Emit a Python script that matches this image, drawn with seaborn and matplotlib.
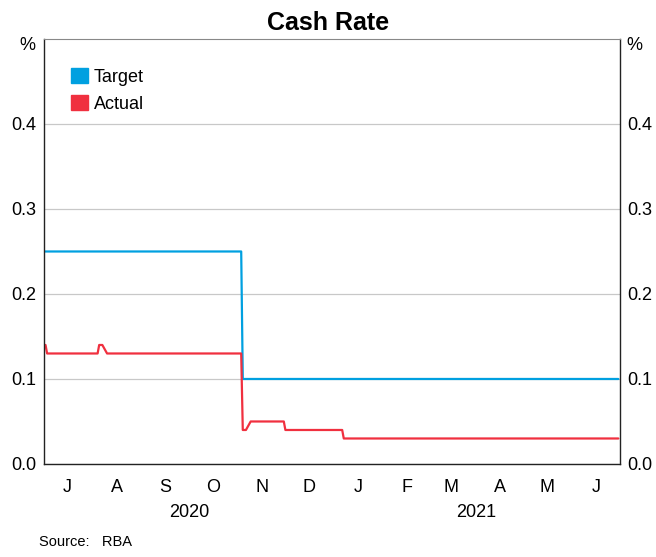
import matplotlib
matplotlib.use("Agg")
import matplotlib.pyplot as plt
import matplotlib.dates as mdates
import matplotlib.transforms as mtransforms
from matplotlib.patches import Patch
import pandas as pd
import seaborn as sns

# Data: points where the rates change
target_dates = ["2020-07-01", "2020-11-03", "2020-11-04", "2021-06-30"]
target_vals = [0.25, 0.25, 0.10, 0.10]

actual_dates = ["2020-07-01", "2020-07-02", "2020-07-03", "2020-08-04", "2020-08-05",
                "2020-08-07", "2020-08-10", "2020-11-03", "2020-11-04", "2020-11-06",
                "2020-11-09", "2020-11-30", "2020-12-01", "2021-01-06", "2021-01-07",
                "2021-06-30"]
actual_vals = [0.14, 0.14, 0.13, 0.13, 0.14,
               0.14, 0.13, 0.13, 0.04, 0.04,
               0.05, 0.05, 0.04, 0.04, 0.03,
               0.03]

month_letters = ["J", "A", "S", "O", "N", "D", "J", "F", "M", "A", "M", "J"]
years = ["2020", "2021"]

sns.set_style("white")
plt.rcParams["font.family"] = ["Liberation Sans", "DejaVu Sans"]
plt.rcParams["text.color"] = "black"
plt.rcParams["xtick.color"] = "black"
plt.rcParams["ytick.color"] = "black"

blue = "#00a0e0"
red = "#f0303f"

df_t = pd.DataFrame({"date": pd.to_datetime(target_dates), "rate": target_vals})
df_a = pd.DataFrame({"date": pd.to_datetime(actual_dates), "rate": actual_vals})

fig = plt.figure(figsize=(6.56, 5.57), dpi=100)
ax = fig.add_axes([0.067, 0.167, 0.878, 0.763])

sns.lineplot(data=df_t, x="date", y="rate", ax=ax, color=blue, lw=1.6, legend=False)
sns.lineplot(data=df_a, x="date", y="rate", ax=ax, color=red, lw=1.6, legend=False)

ax.set_xlim(pd.Timestamp("2020-07-01"), pd.Timestamp("2021-07-01"))
ax.set_ylim(0, 0.5)
ax.set_yticks([0.0, 0.1, 0.2, 0.3, 0.4])
ax.set_yticklabels(["0.0", "0.1", "0.2", "0.3", "0.4"])
ax.grid(axis="y", color="#c8c8c8", lw=0.9)
ax.set_axisbelow(True)
ax.tick_params(axis="y", which="both", left=False, right=False,
               labelleft=True, labelright=True, labelsize=13, pad=2)

# month ticks at month starts, labels mid-month
ax.xaxis.set_major_locator(mdates.MonthLocator())
ax.xaxis.set_major_formatter(plt.NullFormatter())
ax.xaxis.set_minor_locator(mdates.MonthLocator(bymonthday=16))
ax.xaxis.set_minor_formatter(plt.FixedFormatter(month_letters))
ax.tick_params(axis="x", which="major", direction="in", length=8, width=1, color="#555555")
ax.tick_params(axis="x", which="minor", length=0, labelsize=13, pad=11)
ax.set_xlabel("")
ax.set_ylabel("")

for s in ["left", "right", "bottom"]:
    ax.spines[s].set_color("#222222")
    ax.spines[s].set_linewidth(1.0)
ax.spines["top"].set_color("#888888")

trans = mtransforms.blended_transform_factory(ax.transData, ax.transAxes)
ax.text(pd.Timestamp("2020-10-01"), -0.115, years[0], transform=trans,
        ha="center", va="center", fontsize=13)
ax.text(pd.Timestamp("2021-04-01"), -0.115, years[1], transform=trans,
        ha="center", va="center", fontsize=13)

ax.text(-0.015, 0.985, "%", transform=ax.transAxes, ha="right", va="center", fontsize=13)
ax.text(1.012, 0.985, "%", transform=ax.transAxes, ha="left", va="center", fontsize=13)

ax.legend(handles=[Patch(color=blue, label="Target"), Patch(color=red, label="Actual")],
          loc="upper left", bbox_to_anchor=(0.035, 0.948), frameon=False,
          fontsize=13, handlelength=0.9, handleheight=0.9, handletextpad=0.35,
          labelspacing=0.5, borderaxespad=0)

fig.suptitle("Cash Rate", fontsize=18, fontweight="bold", y=0.98)
fig.text(0.06, 0.015, "Source:   RBA", fontsize=10.5, ha="left", va="bottom")

fig.savefig("out.png", dpi=100)
